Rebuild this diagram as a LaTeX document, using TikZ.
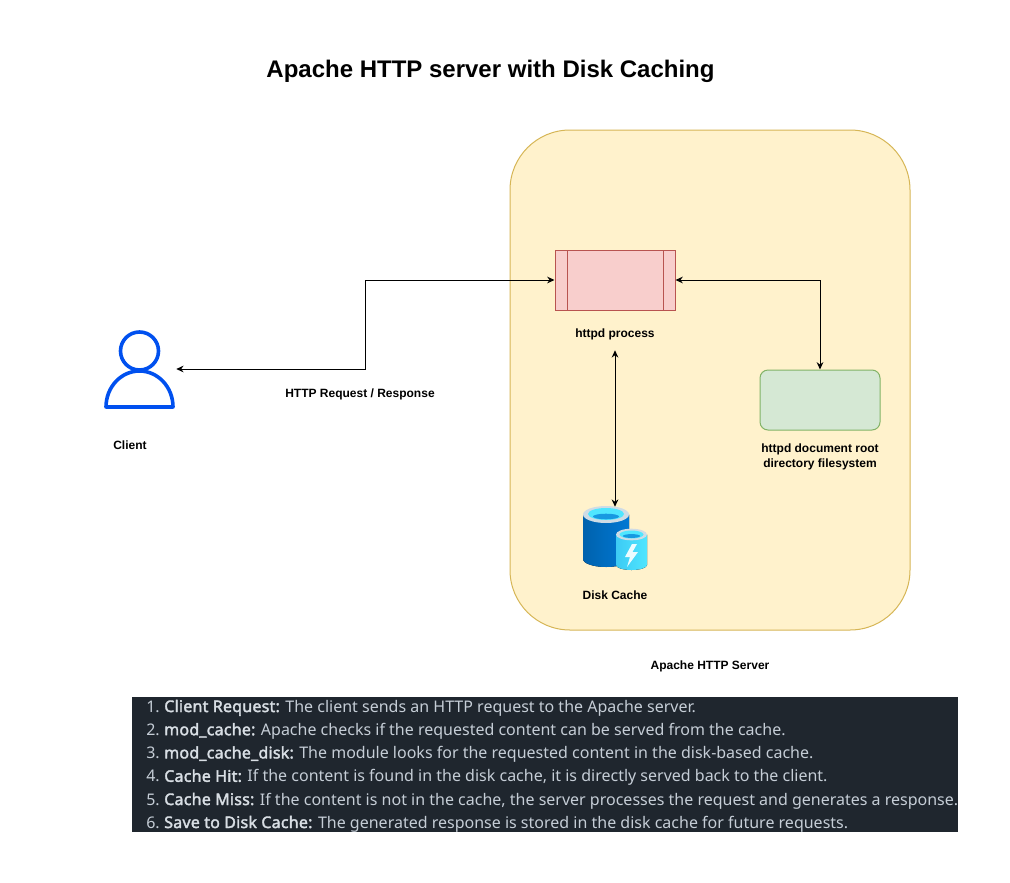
\documentclass[tikz,border=0pt]{standalone}
\usepackage{fontspec}
\setmainfont{Liberation Sans}
\newfontfamily\listfont{Noto Sans}
\newfontfamily\listbold[FakeBold=2.2,LetterSpace=1.4]{Noto Sans}
\usepackage{xcolor}
\usetikzlibrary{arrows.meta, positioning}
\definecolor{serverfill}{HTML}{FFF2CC}
\definecolor{serverline}{HTML}{D6B656}
\definecolor{procfill}{HTML}{F8CECC}
\definecolor{procline}{HTML}{B85450}
\definecolor{rootfill}{HTML}{D5E8D4}
\definecolor{rootline}{HTML}{82B366}
\definecolor{clientblue}{HTML}{0050EF}
\definecolor{listback}{HTML}{1F262E}
\definecolor{listtext}{HTML}{C5CDD6}
\definecolor{listhead}{HTML}{D8DEE4}
\definecolor{darkdisk}{HTML}{0062AD}
\definecolor{middisk}{HTML}{0078D4}
\definecolor{lightdisk}{HTML}{50E6FF}
\definecolor{rimdisk}{HTML}{C3D3DF}
\tikzset{every picture/.style={font issue=\fontsize{9pt}{11.25pt}},
         font issue/.style={execute at begin picture={#1\selectfont}},
         lbl/.style={font=\bfseries\fontsize{9pt}{11.25pt}\selectfont, align=center, inner sep=0pt},
         link/.style={{Stealth[length=5.5pt,width=5pt]}-{Stealth[length=5.5pt,width=5pt]}, line width=0.75pt},
         listitem/.style={font=\listfont\fontsize{12pt}{14pt}\selectfont, text=listtext, inner sep=0pt, anchor=base west}
        }

\begin{document}
\begin{tikzpicture}[x=0.75pt, y=-0.75pt]
\useasboundingbox (0,0) rectangle (1010,882);

\node[font=\bfseries\fontsize{18pt}{22pt}\selectfont, inner sep=0pt](title) at (490.5,71){Apache HTTP server with Disk Caching};

% server area
\node[draw=serverline, fill=serverfill, line width=0.75pt, rounded corners=45pt, minimum width=300pt, minimum height=375pt, inner sep=0pt](server) at (710,380){};
\node[lbl](serverlabel) at (710,666){Apache HTTP Server};

% client
\node[minimum width=52.5pt, minimum height=60pt, inner sep=0pt](client) at (141,369){};
\draw[clientblue, line width=2.7pt] (139.5,351) circle[radius=19];
\draw[clientblue, line width=2.7pt, line join=round] (106,407) arc[start angle=180, end angle=360, x radius=33.5, y radius=36] -- cycle;
\node[lbl](clientlabel) at (130,445){Client};

% httpd
\node[draw=procline, fill=procfill, line width=0.75pt, minimum width=90pt, minimum height=45pt, inner sep=0pt](process) at (615,280){};
\draw[procline, line width=0.75pt] (567,250) -- (567,310);
\draw[procline, line width=0.75pt] (663,250) -- (663,310);
\node[lbl, minimum height=24pt](processlabel) at (615,334){httpd process};

% document root
\node[draw=rootline, fill=rootfill, line width=0.75pt, rounded corners=6pt, minimum width=90pt, minimum height=45pt, inner sep=0pt](docroot) at (820,400){};
\node[lbl](docrootlabel) at (820,456.5){httpd document root\\directory filesystem};

% disk cache
\node[minimum width=48pt, minimum height=47.25pt, inner sep=0pt](disk) at (615,538.5){};
\fill[left color=darkdisk, right color=middisk] (583,514.5) -- (583,559) arc[start angle=180, end angle=0, x radius=23, y radius=8] -- (629,514.5) -- cycle;
\fill[rimdisk!80!white] (606,514.5) ellipse[x radius=23, y radius=8.5];
\fill[lightdisk] (606,514) ellipse[x radius=18, y radius=6];
\fill[middisk!70!lightdisk] (606,516.5) ellipse[x radius=13, y radius=2.8];
\fill[left color=lightdisk!75!middisk, right color=lightdisk] (616,534.5) -- (616,565) arc[start angle=180, end angle=0, x radius=15.5, y radius=5] -- (647,534.5) -- cycle;
\fill[rimdisk!80!white] (631.5,534.5) ellipse[x radius=15.5, y radius=5.8];
\fill[lightdisk] (631.5,534.5) ellipse[x radius=12, y radius=4];
\fill[middisk!70!lightdisk] (631.5,536) ellipse[x radius=8.5, y radius=1.9];
\fill[white!90!lightdisk] (632,544) -- (625,557) -- (630,557) -- (627,567) -- (638,552) -- (632.5,552) -- (637,544) -- cycle;
\node[lbl](disklabel) at (615,595.5){Disk Cache};

% connectors
\coordinate (bendclient) at (365,369);
\coordinate (bendprocess) at (365,280);
\coordinate (bendroot) at (820,280);
\draw[link] (client.east) -- (bendclient) -- (bendprocess) -- (process.west);
\draw[link] (process.east) -- (bendroot) -- (docroot.north);
\draw[link] (processlabel.south) -- (disk.north);
\node[lbl](httplabel) at (360,394){HTTP Request / Response};

% steps
\fill[listback] (132,697) rectangle (958,832);
\begin{scope}
\clip (132,697) rectangle (958,832);
\foreach \n/\y/\head/\rest in {
  1/712/{Client Request:}/{The client sends an HTTP request to the Apache server.},
  2/735.2/{mod\_cache:}/{Apache checks if the requested content can be served from the cache.},
  3/758.4/{mod\_cache\_disk:}/{The module looks for the requested content in the disk-based cache.},
  4/781.8/{Cache Hit:}/{If the content is found in the disk cache, it is directly served back to the client.},
  5/805/{Cache Miss:}/{If the content is not in the cache, the server processes the request and generates a response.},
  6/828/{Save to Disk Cache:}/{The generated response is stored in the disk cache for future requests.}}{
  \node[listitem, anchor=base east](num\n) at (160,\y){\n.};
  \node[listitem](item\n) at (164,\y){\textcolor{listhead}{\listbold\head} \rest};
}
\end{scope}
\end{tikzpicture}
\end{document}
